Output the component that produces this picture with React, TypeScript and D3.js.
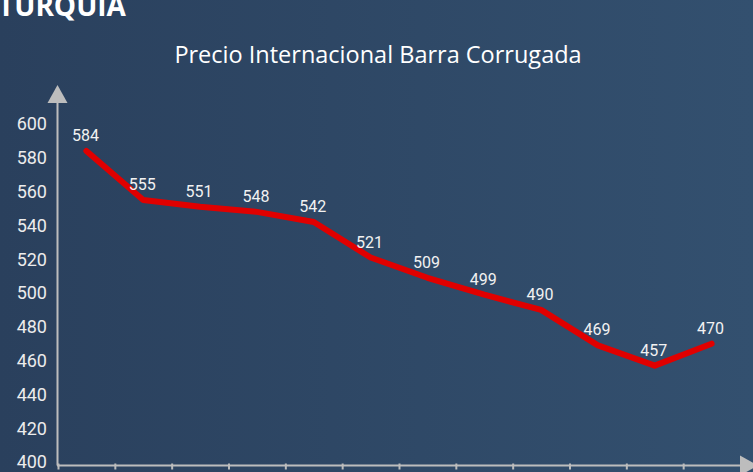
import { useRef, useEffect } from 'react';
import * as d3 from 'd3';

const periods = ['1', '2', '3', '4', '5', '6', '7', '8', '9', '10', '11', '12'];
const prices = [584, 555, 551, 548, 542, 521, 509, 499, 490, 469, 457, 470];
const yTicks = [400, 420, 440, 460, 480, 500, 520, 540, 560, 580, 600];

const W = 753;
const H = 472;

export default function App() {
  const svgRef = useRef<SVGSVGElement>(null);

  useEffect(() => {
    if (!svgRef.current) return;
    const svg = d3.select(svgRef.current);
    svg.selectAll('*').remove();

    // Background gradient
    const defs = svg.append('defs');
    const grad = defs
      .append('linearGradient')
      .attr('id', 'bg')
      .attr('x1', '0%')
      .attr('x2', '100%')
      .attr('y1', '0%')
      .attr('y2', '0%');
    grad.append('stop').attr('offset', '0%').attr('stop-color', '#2a405d');
    grad.append('stop').attr('offset', '100%').attr('stop-color', '#33506f');
    svg.append('rect').attr('width', W).attr('height', H).attr('fill', 'url(#bg)');

    const xScale = d3.scaleBand<string>().domain(periods).range([58, 740]).padding(0);
    const yScale = d3.scaleLinear().domain([400, 600]).range([462, 124]);
    const cx = (i: number) => (xScale(periods[i]) ?? 0) + xScale.bandwidth() / 2;

    const axisColor = '#bdbdbd';
    const axisY = 465.5;

    // Headings
    svg
      .append('text')
      .attr('x', -2)
      .attr('y', 16)
      .attr('fill', '#ffffff')
      .attr('font-family', '"Open Sans", sans-serif')
      .attr('font-weight', 700)
      .attr('font-size', 28)
      .text('TURQUIA');

    svg
      .append('text')
      .attr('x', 378)
      .attr('y', 63)
      .attr('text-anchor', 'middle')
      .attr('fill', '#ffffff')
      .attr('font-family', '"Open Sans", sans-serif')
      .attr('font-size', 23.5)
      .text('Precio Internacional Barra Corrugada');

    // Y axis
    svg
      .append('line')
      .attr('x1', 57.5)
      .attr('x2', 57.5)
      .attr('y1', 100)
      .attr('y2', axisY)
      .attr('stroke', axisColor)
      .attr('stroke-width', 2);
    svg
      .append('path')
      .attr('d', 'M57.5,85 L67.5,103 L47.5,103 Z')
      .attr('fill', axisColor);

    svg
      .append('g')
      .selectAll('text')
      .data(yTicks)
      .join('text')
      .attr('x', 47)
      .attr('y', (d) => yScale(d))
      .attr('dy', '0.36em')
      .attr('text-anchor', 'end')
      .attr('fill', '#ececec')
      .attr('font-family', 'Roboto, sans-serif')
      .attr('font-size', 18)
      .text((d) => d);

    // X axis
    svg
      .append('line')
      .attr('x1', 57)
      .attr('x2', 742)
      .attr('y1', axisY)
      .attr('y2', axisY)
      .attr('stroke', axisColor)
      .attr('stroke-width', 2);
    svg
      .append('path')
      .attr('d', `M740,${axisY - 10} L758,${axisY} L740,${axisY + 10} Z`)
      .attr('fill', axisColor);

    const tickXs = periods.map((p) => xScale(p) ?? 0);
    svg
      .append('g')
      .selectAll('line')
      .data(tickXs)
      .join('line')
      .attr('x1', (d) => d + 0.5)
      .attr('x2', (d) => d + 0.5)
      .attr('y1', axisY - 2)
      .attr('y2', axisY + 4)
      .attr('stroke', axisColor)
      .attr('stroke-width', 2);

    // Price line
    const line = d3
      .line<number>()
      .x((_, i) => cx(i))
      .y((d) => yScale(d));

    svg
      .append('path')
      .datum(prices)
      .attr('d', line)
      .attr('fill', 'none')
      .attr('stroke', '#e00000')
      .attr('stroke-width', 6)
      .attr('stroke-linecap', 'round')
      .attr('stroke-linejoin', 'round');

    // Value labels
    svg
      .append('g')
      .selectAll('text')
      .data(prices)
      .join('text')
      .attr('x', (_, i) => cx(i) - 1)
      .attr('y', (d) => yScale(d) - 10)
      .attr('text-anchor', 'middle')
      .attr('fill', '#f2f2f2')
      .attr('font-family', 'Roboto, sans-serif')
      .attr('font-size', 16)
      .text((d) => d);
  }, []);

  return (
    <div style={{ position: 'fixed', left: 0, top: 0, width: W, height: H }}>
      <svg ref={svgRef} width={W} height={H} style={{ display: 'block' }} />
    </div>
  );
}
